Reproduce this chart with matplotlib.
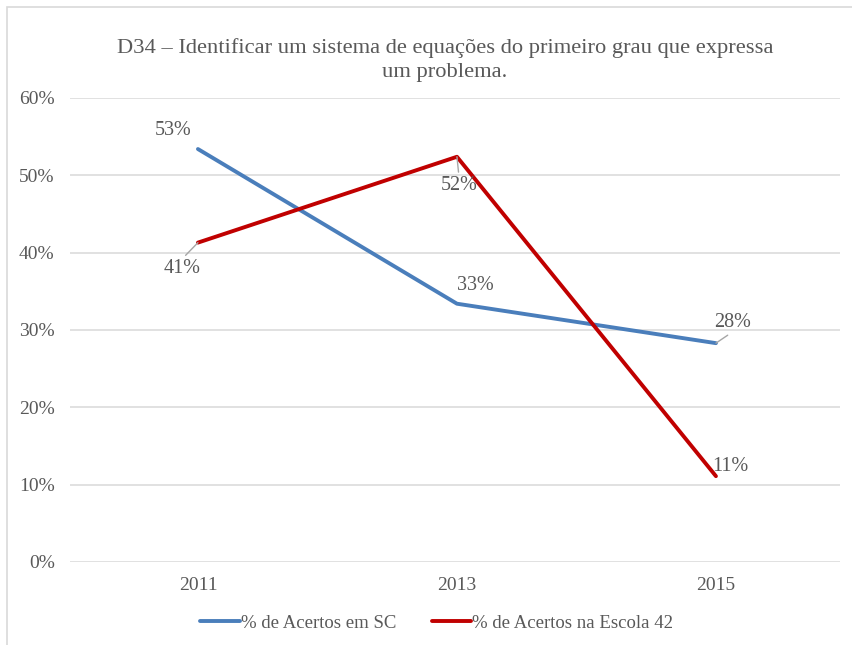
import matplotlib
matplotlib.use("Agg")
import matplotlib.pyplot as plt
from matplotlib.patches import Rectangle
from matplotlib.ticker import FuncFormatter, MultipleLocator

plt.rcParams['font.family'] = ['Liberation Serif', 'DejaVu Serif']

years = ['2011', '2013', '2015']
acertos_sc = [53.4, 33.4, 28.3]
acertos_escola = [41.3, 52.4, 11.1]
series_names = ['% de Acertos em SC', '% de Acertos na Escola 42']
title = 'D34 – Identificar um sistema de equações do primeiro grau que expressa\num problema.'

BLUE = '#4A7EBB'
RED = '#C00000'
TEXT = '#595959'
GRID = '#D9D9D9'

W, H = 853, 645
fig = plt.figure(figsize=(W / 100, H / 100), dpi=100)
ax = fig.add_axes([70 / W, 1 - 562 / H, 770 / W, 464 / H])

# chart-area border
fig.patches.append(Rectangle((7 / W, -0.1), 1.2, 1 - 7 / H + 0.1, transform=fig.transFigure,
                             fill=False, edgecolor=GRID, linewidth=1.2))

x = range(len(years))
ax.plot(x, acertos_sc, color=BLUE, lw=2.8, solid_capstyle='round', label=series_names[0], zorder=3)
ax.plot(x, acertos_escola, color=RED, lw=2.8, solid_capstyle='round', label=series_names[1], zorder=3)

ax.set_xlim(-0.494, 2.479)
ax.set_ylim(0, 60)
ax.yaxis.set_major_locator(MultipleLocator(10))
ax.yaxis.set_major_formatter(FuncFormatter(lambda v, p: f'{v:.0f}%'))
ax.set_xticks(list(x))
ax.set_xticklabels(years)
ax.grid(axis='y', color=GRID, lw=1.1)
ax.set_axisbelow(True)
for s in ax.spines.values():
    s.set_visible(False)
ax.tick_params(length=0, labelsize=14, labelcolor=TEXT)
ax.tick_params(axis='y', pad=11)
ax.tick_params(axis='x', pad=11)

def label(xi, v, dx, dy, leader=False):
    kw = dict(textcoords='offset pixels', ha='center', va='center',
              fontsize=14.5, color=TEXT, zorder=4)
    if leader:
        kw['arrowprops'] = dict(arrowstyle='-', color='#A6A6A6', lw=1.0,
                                shrinkA=1, shrinkB=0, relpos=leader)
    ax.annotate(f'{v:.0f}%', xy=(xi, v), xytext=(dx, dy), **kw)

label(0, acertos_sc[0], -25, 19)
label(1, acertos_sc[1], 18, 18)
label(2, acertos_sc[2], 17, 21, leader=(0.5, 0.0))
label(0, acertos_escola[0], -16, -26, leader=(0.5, 1.0))
label(1, acertos_escola[1], 2, -29, leader=(0.5, 1.0))
label(2, acertos_escola[2], 14, 10)

fig.text(445 / W, 1 - 60 / H, title, ha='center', va='center', fontsize=16.2,
         color=TEXT, linespacing=1.4)

fig.legend(loc='center', bbox_to_anchor=(0.512, 1 - 623 / H), ncol=2, frameon=False,
           fontsize=13.5, labelcolor=TEXT, handlelength=2.1, handletextpad=0.05,
           columnspacing=1.9)

fig.savefig('out.png', dpi=100)
